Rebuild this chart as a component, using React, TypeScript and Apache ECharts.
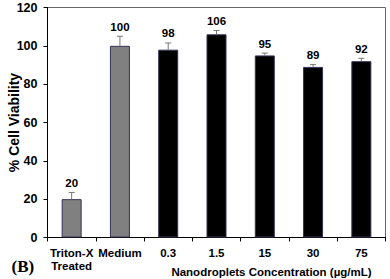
import React, { useEffect, useRef } from "react";
import * as echarts from "echarts";

const categories = ["Triton-X\nTreated", "Medium", "0.3", "1.5", "15", "30", "75"];
const viability = [20, 100, 98, 106, 95, 89, 92];
const errors = [3.5, 5, 3.5, 2, 1.2, 1.2, 1.5];
const valueLabels = ["20", "100", "98", "106", "95", "89", "92"];
const barColors = ["#808080", "#808080", "#000000", "#000000", "#000000", "#000000", "#000000"];
const yTicks = { min: 0, max: 120, interval: 20 };

const FONT = "'Liberation Sans', Arial, Helvetica, sans-serif";

export default function App() {
  const ref = useRef<HTMLDivElement>(null);
  useEffect(() => {
    if (!ref.current) return;
    const chart = echarts.init(ref.current, null, { renderer: "svg" });
    const errData = viability.map((v, i) => [i, v, errors[i], valueLabels[i]]);
    chart.setOption({
      animation: false,
      backgroundColor: "#ffffff",
      grid: {
        left: 47.5,
        right: 4.5,
        top: 7.5,
        bottom: 41.5,
        show: true,
        borderColor: "#666666",
        borderWidth: 1,
        outerBoundsMode: "none",
      },
      xAxis: {
        type: "category",
        data: categories,
        axisLine: { lineStyle: { color: "#000", width: 1 } },
        axisTick: { show: true, alignWithLabel: false, length: 4, lineStyle: { color: "#000" } },
        axisLabel: {
          color: "#000",
          fontWeight: "bold",
          fontSize: 11.5,
          fontFamily: FONT,
          margin: 9,
          lineHeight: 13,
          interval: 0,
        },
      },
      yAxis: {
        type: "value",
        min: yTicks.min,
        max: yTicks.max,
        interval: yTicks.interval,
        axisLine: { show: true, lineStyle: { color: "#000", width: 1 } },
        axisTick: { show: true, length: 4, lineStyle: { color: "#000" } },
        splitLine: { show: false },
        axisLabel: {
          color: "#000",
          fontWeight: "bold",
          fontSize: 12.5,
          fontFamily: FONT,
          margin: 10,
        },
      },
      graphic: [
        {
          type: "text",
          x: 14,
          y: 122.5,
          rotation: Math.PI / 2,
          style: {
            text: "% Cell Viability",
            align: "center",
            verticalAlign: "middle",
            fontSize: 14,
            fontWeight: "bold",
            fontFamily: FONT,
            fill: "#000",
          },
        },
        {
          type: "text",
          x: 271.5,
          y: 271.5,
          style: {
            text: "Nanodroplets Concentration (\u00b5g/mL)",
            align: "center",
            verticalAlign: "middle",
            fontSize: 11.5,
            fontWeight: "bold",
            fontFamily: FONT,
            fill: "#000",
          },
        },
        {
          type: "text",
          x: 11.5,
          y: 266,
          style: {
            text: "(B)",
            align: "left",
            verticalAlign: "middle",
            fontSize: 17,
            fontWeight: "bold",
            fontFamily: "'Liberation Serif', 'Times New Roman', serif",
            fill: "#000",
          },
        },
      ],
      series: [
        {
          type: "bar",
          barWidth: 20,
          data: viability.map((v, i) => ({
            value: v,
            itemStyle: { color: barColors[i], borderColor: "#333355", borderWidth: 1 },
          })),
          z: 2,
        },
        {
          type: "custom",
          z: 3,
          data: errData,
          encode: { x: 0, y: 1 },
          renderItem: (params: any, api: any) => {
            const idx = api.value(0);
            const v = api.value(1);
            const e = api.value(2);
            const label = valueLabels[params.dataIndex];
            const base = api.coord([idx, v]);
            const top = api.coord([idx, v + e]);
            const x = base[0];
            const cap = 3;
            const stroke = { stroke: "#777777", lineWidth: 1 };
            return {
              type: "group",
              children: [
                { type: "line", shape: { x1: x, y1: base[1], x2: x, y2: top[1] }, style: stroke },
                { type: "line", shape: { x1: x - cap, y1: top[1], x2: x + cap, y2: top[1] }, style: stroke },
                {
                  type: "text",
                  x: x,
                  y: top[1] - 9.5,
                  style: {
                    text: label,
                    align: "center",
                    verticalAlign: "middle",
                    fontSize: 11.5,
                    fontWeight: "bold",
                    fontFamily: FONT,
                    fill: "#000",
                  },
                },
              ],
            };
          },
        },
      ],
    });
    return () => chart.dispose();
  }, []);
  return (
    <div
      ref={ref}
      style={{ position: "fixed", left: 0, top: 0, width: 390, height: 279, background: "#fff" }}
    />
  );
}
